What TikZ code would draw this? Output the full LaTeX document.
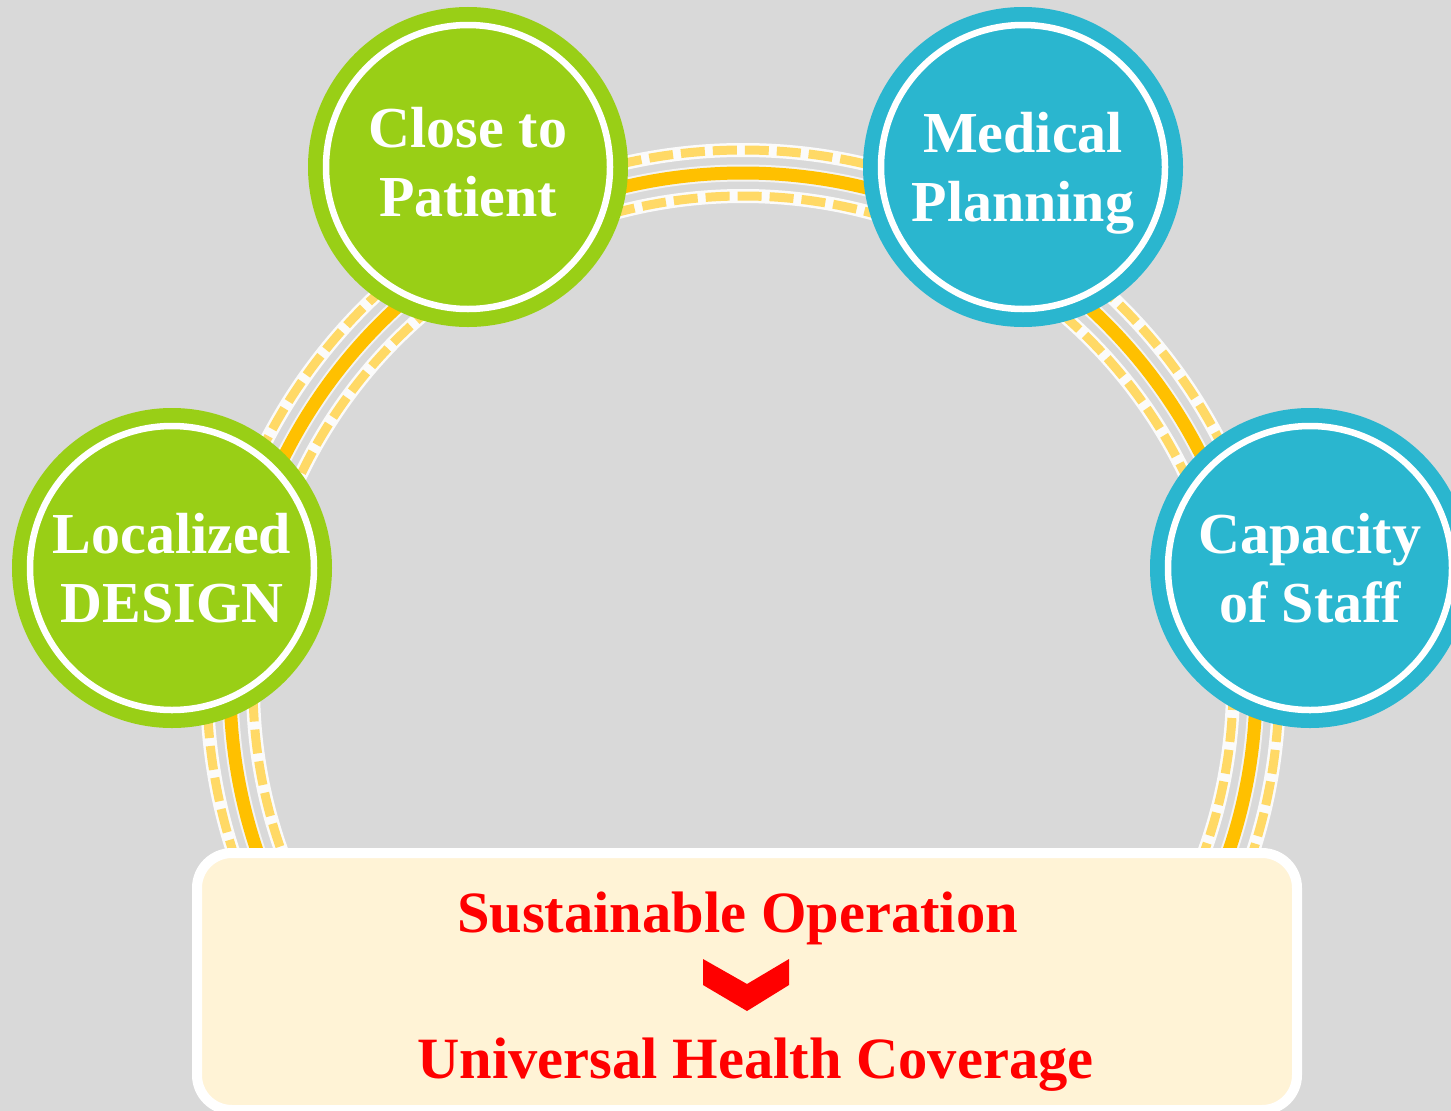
\documentclass[tikz,border=0pt]{standalone}
\usepackage{fontspec}
\setmainfont{Liberation Serif}
\definecolor{bggray}{HTML}{D9D9D9}
\definecolor{leafgreen}{HTML}{99CF16}
\definecolor{skyblue}{HTML}{2AB6CF}
\definecolor{trackorange}{HTML}{FFC000}
\definecolor{tracklight}{HTML}{FFD966}
\definecolor{cream}{HTML}{FFF3D6}
\tikzset{
  pillar/.style={circle,inner sep=0pt,minimum size=284pt,text depth=0pt,align=center,
    text=white,font=\bfseries\fontsize{58}{69}\selectfont,
    draw=white,line width=6.5pt,fill=#1,preaction={draw=#1,line width=36pt}},
  trackmain/.style={draw=trackorange,line width=13pt,preaction={draw=white,line width=17pt,opacity=.7}},
  trackdash/.style={draw=tracklight,line width=9pt,dash pattern=on 24pt off 8pt,
    preaction={draw=white,solid,line width=14pt,opacity=.9}},
  goal/.style={draw=white,fill=cream,line width=10pt,rounded corners=35pt,
    minimum width=1100pt,minimum height=257pt},
  goaltext/.style={text=red,inner sep=0pt,font=\bfseries\fontsize{58.5}{70}\selectfont}
}
\begin{document}
\begin{tikzpicture}[x=1pt,y=-1pt]
		\useasboundingbox (0,0) rectangle (1451,1111);
		\fill [bggray] (0,0) rectangle (1451,1111);
		\coordinate (hub) at (743,686);
		\draw [trackdash] (hub) circle (536);
		\draw [trackdash] (hub) circle (490);
		\draw [trackmain] (hub) circle (513);
		\node (local) [pillar=leafgreen] at (172,568) {Localized\\DESIGN};
		\node (close) [pillar=leafgreen,text depth=11pt] at (468,167) {Close to\\Patient};
		\node (medic) [pillar=skyblue] at (1023,167) {Medical\\Planning};
		\node (staff) [pillar=skyblue] at (1310,568) {Capacity\\of Staff};
		\node (goalbox) [goal] at (747,981.5) {};
		\node (sustain) [goaltext,anchor=base] at (737.5,932) {Sustainable Operation};
		\node (uhc) [goaltext,anchor=base] at (755.5,1078) {Universal Health Coverage};
		\fill [red] (703,959)--(747,984)--(789,959)--(789,985)--(747,1011)--(703,985)--cycle;
\end{tikzpicture}
\end{document}
